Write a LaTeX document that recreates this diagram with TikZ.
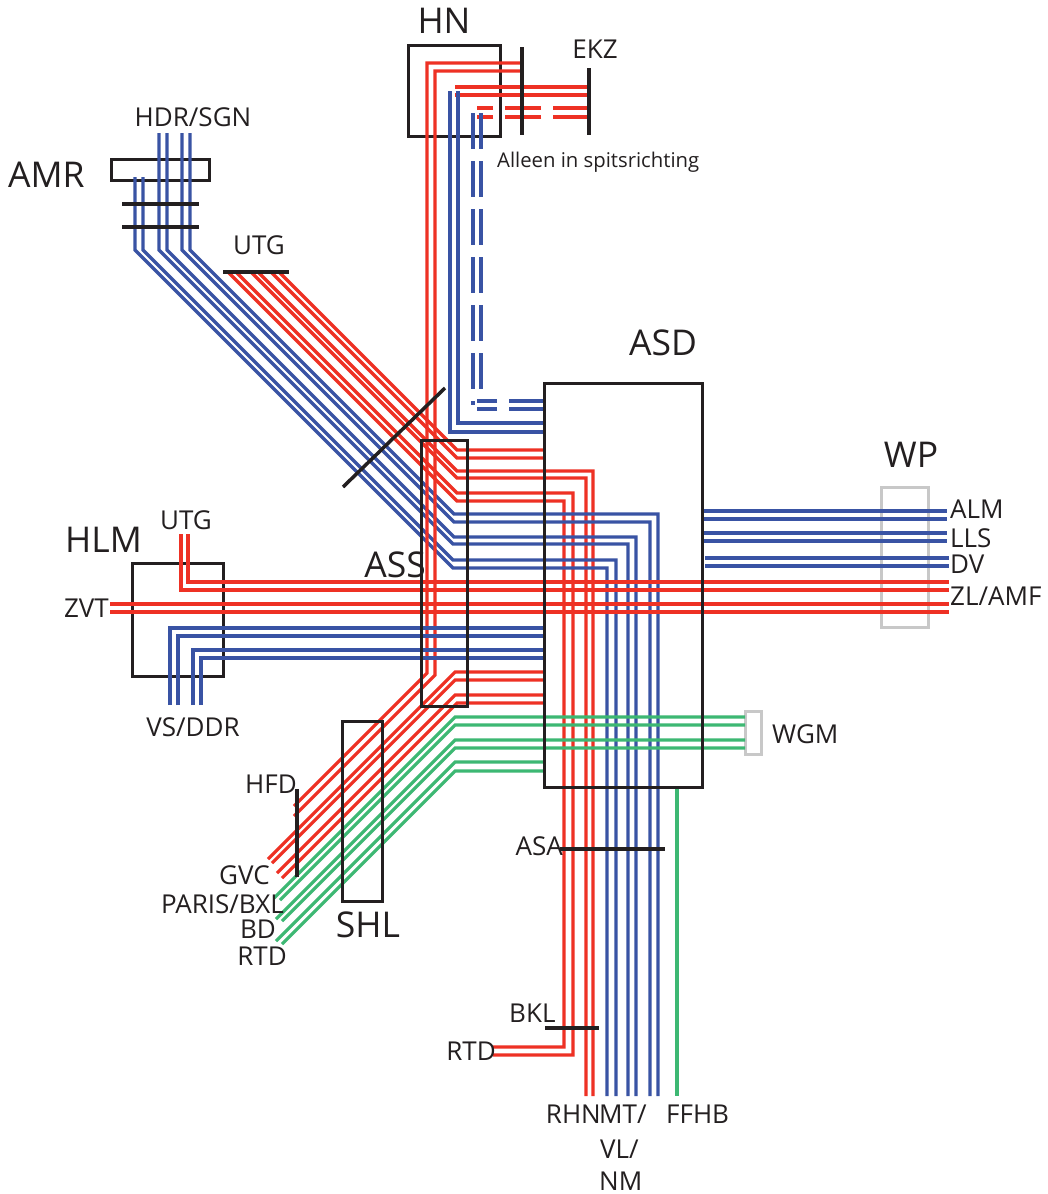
\documentclass[tikz,border=0pt]{standalone}
\usepackage{fontspec}
\setmainfont{Open Sans}
\definecolor{tred}{HTML}{EE3124}
\definecolor{tblue}{HTML}{3953A4}
\definecolor{tgreen}{HTML}{3DB873}
\definecolor{tgrey}{HTML}{C8C8C8}
\definecolor{tblack}{HTML}{231F20}
\begin{document}
\begin{tikzpicture}[x=1pt,y=-1pt,
  trk/.style={line width=3.2pt, line cap=butt, line join=miter},
  rt/.style={trk, draw=tred}, bt/.style={trk, draw=tblue}, gt/.style={trk, draw=tgreen},
  boxs/.style={draw=tblack, line width=3pt},
  greybox/.style={draw=tgrey, line width=3pt},
  bar/.style={draw=tblack, line width=3.5pt},
  big/.style={font=\fontsize{35.5}{40}\selectfont, text=tblack, inner sep=0pt},
  sml/.style={font=\fontsize{26}{30}\selectfont, text=tblack, inner sep=0pt},
  tiny/.style={font=\fontsize{20.3}{24}\selectfont, text=tblack, inner sep=0pt},
  dsh/.style={dash pattern=on 36pt off 12pt}
]
\useasboundingbox (0,0) rectangle (1048,1194);
\fill[white] (0,0) rectangle (1048,1194);

% boxes below the tracks
\draw[greybox] (881,487) rectangle (928,627);
\draw[greybox] (745,711) rectangle (761,754);
\draw[boxs] (111,159) rectangle (209,180);
\draw[boxs] (132,563) rectangle (223,676);
\draw[boxs] (408,45) rectangle (500,136);

% NW red (UTG)
\draw[rt] (279,272) -- (457,450) -- (545,450);
\draw[rt] (271,272) -- (457,458) -- (545,458);
\draw[rt] (258,272) -- (457,471) -- (593,471) -- (593,1096);
\draw[rt] (251,272) -- (457,478) -- (586,478) -- (586,1096);
\draw[rt] (236,272) -- (457,493) -- (573,493) -- (573,1055) -- (493,1055);
\draw[rt] (228,272) -- (457,501) -- (564,501) -- (564,1047) -- (493,1047);

% NW blue (AMR / HDR/SGN)
\draw[bt] (190,133) -- (190,250) -- (454,514) -- (658,514) -- (658,1096);
\draw[bt] (182,133) -- (182,250) -- (454,522) -- (650,522) -- (650,1096);
\draw[bt] (167,133) -- (167,250) -- (454,537) -- (636,537) -- (636,1096);
\draw[bt] (159,133) -- (159,250) -- (453,544) -- (628,544) -- (628,1096);
\draw[bt] (143,177) -- (143,250) -- (453,560) -- (616,560) -- (616,1096);
\draw[bt] (135,177) -- (135,250) -- (453,568) -- (607,568) -- (607,1096);

% HN
\draw[rt] (522,63) -- (427,63) -- (427,673) -- (294,806);
\draw[rt] (522,71) -- (435,71) -- (435,675) -- (294,816);
\draw[rt] (455,87) -- (589,87);
\draw[rt] (455,95) -- (589,95);
\draw[rt,dsh] (589,108) -- (477,108);
\draw[rt,dsh] (589,117) -- (477,117);
\draw[bt] (450,91) -- (450,432) -- (545,432);
\draw[bt] (458,91) -- (458,423) -- (545,423);
\draw[bt,dsh] (473,113) -- (473,405);
\draw[bt,dsh] (481,113) -- (481,401);
\draw[bt,dsh] (545,401) -- (477,401);
\draw[bt,dsh] (545,409) -- (477,409);

% HLM / ZVT red to WP
\draw[rt] (188,534) -- (188,582) -- (949,582);
\draw[rt] (181,534) -- (181,590) -- (949,590);
\draw[rt] (110,604) -- (949,604);
\draw[rt] (110,612) -- (949,612);

% VS/DDR blue
\draw[bt] (170,705) -- (170,628) -- (545,628);
\draw[bt] (178,705) -- (178,636) -- (545,636);
\draw[bt] (193,705) -- (193,650) -- (545,650);
\draw[bt] (201,705) -- (201,658) -- (545,658);

% SW red to GVC
\draw[rt] (545,672) -- (455,672) -- (268,859);
\draw[rt] (545,680) -- (455,680) -- (272,863);
\draw[rt] (545,695) -- (455,695) -- (277,873);
\draw[rt] (545,703) -- (457,703) -- (282,878);

% SW green
\draw[gt] (745,717) -- (455,717) -- (274,898);
\draw[gt] (745,725) -- (455,725) -- (280,900);
\draw[gt] (745,740) -- (455,740) -- (276,919);
\draw[gt] (745,748) -- (455,748) -- (282,921);
\draw[gt] (545,762) -- (455,762) -- (276,941);
\draw[gt] (545,771) -- (455,771) -- (282,944);

% WP blue
\draw[bt] (703,511) -- (947,511);
\draw[bt] (703,519) -- (947,519);
\draw[bt] (703,533) -- (947,533);
\draw[bt] (703,541) -- (947,541);
\draw[bt] (705,558) -- (949,558);
\draw[bt] (705,566) -- (949,566);

% FFHB
\draw[gt] (677,787) -- (677,1096);

% boxes on top
\draw[boxs] (544,383) rectangle (702,787);
\draw[boxs] (421,440) rectangle (467,706);
\draw[boxs] (342,721) rectangle (382,901);

% bars
\draw[bar] (522,47) -- (522,135);
\draw[bar] (589,68) -- (589,135);
\draw[bar] (122,204) -- (199,204);
\draw[bar] (122,227) -- (199,227);
\draw[bar] (223,272) -- (289,272);
\draw[bar] (343,487) -- (445,388);
\draw[bar] (297,789) -- (297,877);
\draw[bar] (560,849) -- (665,849);
\draw[bar] (545,1028) -- (599,1028);

% labels
\node[big, anchor=base] (lHN) at (444,33) {HN};
\node[sml, anchor=base] (lEKZ) at (595,58) {EKZ};
\node[tiny, anchor=base west] (lAlleen) at (497,167) {Alleen in spitsrichting};
\node[sml, anchor=base] (lHDR) at (193,126) {HDR/SGN};
\node[big, anchor=base west] (lAMR) at (8,187) {AMR};
\node[sml, anchor=base] (lUTGa) at (259,254) {UTG};
\node[big, anchor=base] (lASD) at (663,355) {ASD};
\node[big, anchor=base] (lWP) at (911,467) {WP};
\node[sml, anchor=base west] (lALM) at (950,518) {ALM};
\node[sml, anchor=base west] (lLLS) at (950,547) {LLS};
\node[sml, anchor=base west] (lDV) at (950,573) {DV};
\node[sml, anchor=base west] (lZL) at (950,605) {ZL/AMF};
\node[sml, anchor=base west] (lWGM) at (772,743) {WGM};
\node[big, anchor=base west] (lHLM) at (65,552) {HLM};
\node[sml, anchor=base] (lUTGb) at (186,529) {UTG};
\node[sml, anchor=base east] (lZVT) at (109,617) {ZVT};
\node[big, anchor=base east] (lASS) at (426,577) {ASS};
\node[sml, anchor=base] (lVS) at (193,736) {VS/DDR};
\node[sml, anchor=base east] (lHFD) at (297,793) {HFD};
\node[sml, anchor=base east] (lGVC) at (270,884) {GVC};
\node[sml, anchor=base east] (lPARIS) at (284,913) {PARIS/BXL};
\node[sml, anchor=base east] (lBD) at (276,938) {BD};
\node[sml, anchor=base east] (lRTDa) at (287,965) {RTD};
\node[big, anchor=base] (lSHL) at (368,937) {SHL};
\node[sml, anchor=base east] (lASA) at (563,855) {ASA};
\node[sml, anchor=base west] (lBKL) at (509,1022) {BKL};
\node[sml, anchor=base east] (lRTDb) at (496,1060) {RTD};
\node[sml, anchor=base east] (lRHN) at (601,1123) {RHN};
\node[sml, anchor=base west] (lMT) at (599,1123) {MT/};
\node[sml, anchor=base west] (lVL) at (600,1158) {VL/};
\node[sml, anchor=base west] (lNM) at (599,1190) {NM};
\node[sml, anchor=base west] (lFFHB) at (666,1123) {FFHB};
\end{tikzpicture}
\end{document}
